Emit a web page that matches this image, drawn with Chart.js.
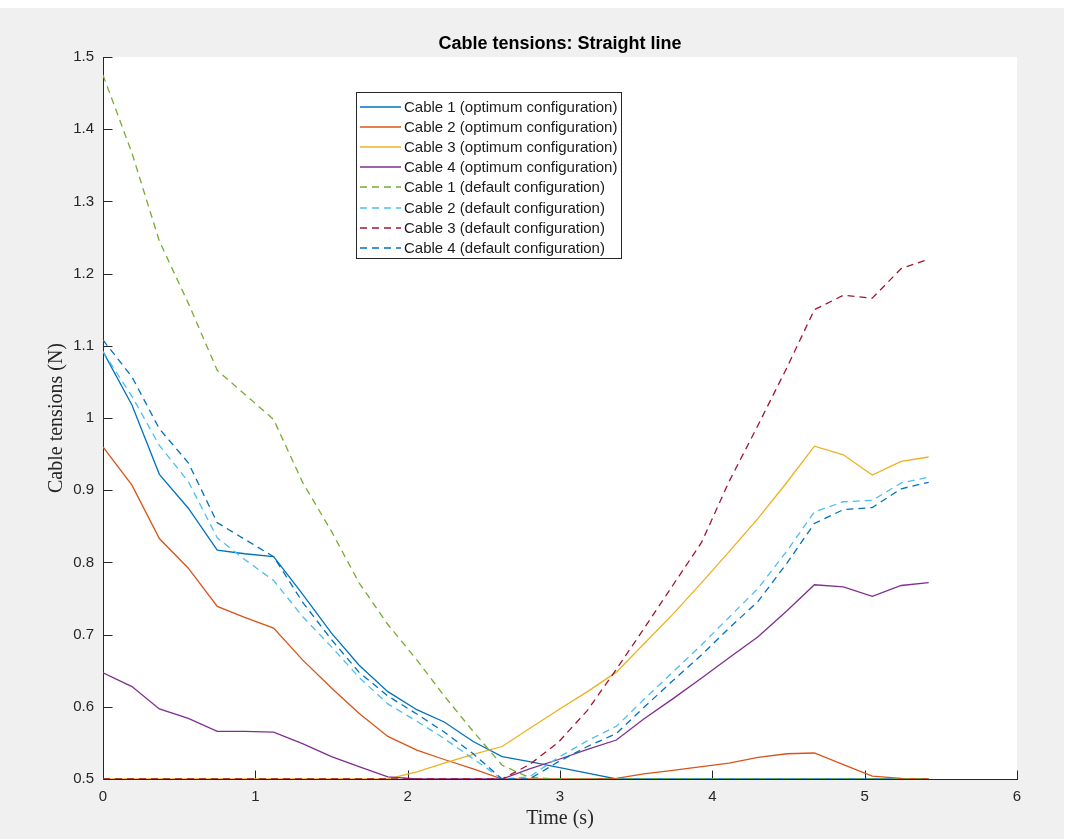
<!DOCTYPE html>
<html>
<head>
<meta charset="utf-8">
<title>Cable tensions: Straight line</title>
<script src="https://cdn.jsdelivr.net/npm/chart.js@4.4.1/dist/chart.umd.min.js"></script>
<style>
  html, body { margin: 0; padding: 0; background: #ffffff; }
  #figure { position: absolute; left: 0; top: 8px; width: 1064px; height: 831px; background: #f0f0f0; }
  #holder { position: absolute; left: 0; top: 0; width: 1073px; height: 839px; }
  canvas { display: block; }
</style>
</head>
<body>
<div id="figure"></div>
<div id="holder"><canvas id="chart" width="1073" height="839"></canvas></div>
<script>
// Sample times (s)
const times = [0, 0.19, 0.37, 0.56, 0.75, 0.93, 1.12, 1.31, 1.50, 1.68,
               1.87, 2.06, 2.24, 2.43, 2.62, 2.80, 2.99, 3.18, 3.37, 3.55,
               3.74, 3.93, 4.11, 4.30, 4.49, 4.67, 4.86, 5.05, 5.24, 5.42];

// Cable tensions (N), optimum configuration
const cable1Optimum = [1.092, 1.018, 0.922, 0.875, 0.817, 0.812, 0.808, 0.756, 0.702, 0.658,
                       0.621, 0.596, 0.579, 0.552, 0.531, 0.524, 0.516, 0.508, 0.500, 0.500,
                       0.500, 0.500, 0.500, 0.500, 0.500, 0.500, 0.500, 0.500, 0.500, 0.500];
const cable2Optimum = [0.960, 0.907, 0.833, 0.792, 0.739, 0.724, 0.709, 0.665, 0.626, 0.591,
                       0.559, 0.540, 0.527, 0.514, 0.500, 0.500, 0.500, 0.500, 0.501, 0.507,
                       0.512, 0.517, 0.522, 0.530, 0.535, 0.536, 0.520, 0.504, 0.501, 0.500];
const cable3Optimum = [0.500, 0.500, 0.500, 0.500, 0.500, 0.500, 0.500, 0.500, 0.500, 0.500,
                       0.500, 0.510, 0.522, 0.534, 0.545, 0.570, 0.596, 0.621, 0.648, 0.687,
                       0.728, 0.772, 0.815, 0.861, 0.911, 0.961, 0.949, 0.921, 0.940, 0.946];
const cable4Optimum = [0.647, 0.628, 0.597, 0.584, 0.566, 0.566, 0.565, 0.549, 0.531, 0.517,
                       0.503, 0.500, 0.500, 0.500, 0.500, 0.514, 0.527, 0.541, 0.554, 0.583,
                       0.611, 0.640, 0.668, 0.697, 0.733, 0.769, 0.766, 0.753, 0.768, 0.772];

// Cable tensions (N), default configuration
const cable1Default = [1.475, 1.367, 1.245, 1.159, 1.066, 1.033, 0.998, 0.911, 0.843, 0.772,
                       0.714, 0.665, 0.615, 0.566, 0.519, 0.502, 0.500, 0.500, 0.500, 0.500,
                       0.500, 0.500, 0.500, 0.500, 0.500, 0.500, 0.500, 0.500, 0.500, 0.500];
const cable2Default = [1.092, 1.030, 0.962, 0.912, 0.834, 0.804, 0.775, 0.725, 0.683, 0.641,
                       0.604, 0.580, 0.556, 0.528, 0.500, 0.503, 0.530, 0.553, 0.573, 0.610,
                       0.648, 0.686, 0.724, 0.764, 0.816, 0.870, 0.884, 0.886, 0.910, 0.918];
const cable3Default = [0.500, 0.500, 0.500, 0.500, 0.500, 0.500, 0.500, 0.500, 0.500, 0.500,
                       0.500, 0.500, 0.500, 0.500, 0.500, 0.520, 0.551, 0.595, 0.652, 0.708,
                       0.768, 0.828, 0.912, 0.990, 1.070, 1.150, 1.170, 1.166, 1.207, 1.220];
const cable4Default = [1.108, 1.057, 0.985, 0.938, 0.855, 0.832, 0.808, 0.745, 0.693, 0.648,
                       0.615, 0.590, 0.565, 0.535, 0.500, 0.500, 0.524, 0.545, 0.563, 0.599,
                       0.636, 0.672, 0.709, 0.746, 0.799, 0.854, 0.873, 0.876, 0.902, 0.911];

// Axis ticks
const xTicks = [0, 1, 2, 3, 4, 5, 6];
const xTickLabels = ['0', '1', '2', '3', '4', '5', '6'];
const yTicks = [0.5, 0.6, 0.7, 0.8, 0.9, 1.0, 1.1, 1.2, 1.3, 1.4, 1.5];
const yTickLabels = ['0.5', '0.6', '0.7', '0.8', '0.9', '1', '1.1', '1.2', '1.3', '1.4', '1.5'];

const seriesLabels = [
  'Cable 1 (optimum configuration)',
  'Cable 2 (optimum configuration)',
  'Cable 3 (optimum configuration)',
  'Cable 4 (optimum configuration)',
  'Cable 1 (default configuration)',
  'Cable 2 (default configuration)',
  'Cable 3 (default configuration)',
  'Cable 4 (default configuration)'
];
const seriesValues = [cable1Optimum, cable2Optimum, cable3Optimum, cable4Optimum,
                      cable1Default, cable2Default, cable3Default, cable4Default];
const seriesColors = ['#0072BD', '#D95319', '#EDB120', '#7E2F8E',
                      '#77AC30', '#4DBEEE', '#A2142F', '#0072BD'];
const DASH = [7, 5];

const AXIS_COLOR = '#262626';
const SANS = '"Liberation Sans", Arial, Helvetica, sans-serif';
const SERIF = '"Liberation Serif", "Times New Roman", serif';

const datasets = seriesValues.map((vals, i) => ({
  label: seriesLabels[i],
  data: times.map((t, k) => ({ x: t, y: vals[k] })),
  borderColor: seriesColors[i],
  backgroundColor: seriesColors[i],
  borderWidth: 1.3,
  borderDash: i >= 4 ? DASH : [],
  pointRadius: 0,
  tension: 0,
  fill: false,
  order: seriesValues.length - 1 - i
}));

// Axes in the MATLAB style: left and bottom lines, inward ticks, labels and titles
const matlabAxes = {
  id: 'matlabAxes',
  beforeDraw(chart) {
    const { ctx, chartArea: a } = chart;
    ctx.save();
    ctx.fillStyle = '#ffffff';
    ctx.fillRect(a.left, a.top, a.right - a.left, a.bottom - a.top);
    ctx.restore();
  },
  beforeDatasetsDraw(chart) {
    const { ctx, chartArea: a, scales: { x, y } } = chart;
    const tick = 9;
    ctx.save();
    ctx.strokeStyle = AXIS_COLOR;
    ctx.lineWidth = 1;
    ctx.beginPath();
    const L = Math.round(a.left) + 0.5;
    const B = Math.round(a.bottom) + 0.5;
    ctx.moveTo(L, Math.round(a.top));
    ctx.lineTo(L, B);
    ctx.lineTo(Math.round(a.right) + 1, B);
    xTicks.forEach(v => {
      const px = Math.round(x.getPixelForValue(v)) + 0.5;
      ctx.moveTo(px, B);
      ctx.lineTo(px, B - tick);
    });
    yTicks.forEach(v => {
      const py = Math.round(y.getPixelForValue(v)) + 0.5;
      ctx.moveTo(L, py);
      ctx.lineTo(L + tick, py);
    });
    ctx.stroke();
    ctx.restore();
  },
  afterDraw(chart) {
    const { ctx, chartArea: a, scales: { x, y } } = chart;
    ctx.save();
    // tick labels
    ctx.fillStyle = AXIS_COLOR;
    ctx.font = '15px ' + SANS;
    ctx.textAlign = 'right';
    ctx.textBaseline = 'middle';
    yTicks.forEach((v, i) => ctx.fillText(yTickLabels[i], a.left - 9, y.getPixelForValue(v)));
    ctx.textAlign = 'center';
    xTicks.forEach((v, i) => ctx.fillText(xTickLabels[i], x.getPixelForValue(v), a.bottom + 18));
    // axis titles
    ctx.font = '20px ' + SERIF;
    ctx.fillText('Time (s)', (a.left + a.right) / 2, a.bottom + 40);
    ctx.save();
    ctx.translate(a.left - 46, (a.top + a.bottom) / 2);
    ctx.rotate(-Math.PI / 2);
    ctx.fillText('Cable tensions (N)', 0, 0);
    ctx.restore();
    // title
    ctx.fillStyle = '#000000';
    ctx.font = 'bold 18px ' + SANS;
    ctx.fillText('Cable tensions: Straight line', (a.left + a.right) / 2, a.top - 13);
    ctx.restore();
  }
};

// Legend box placed inside the axes
const boxLegend = {
  id: 'boxLegend',
  afterDatasetsDraw(chart) {
    const { ctx } = chart;
    const left = 356, top = 92, width = 265, height = 166;
    const rowTop = 106.5, rowStep = 20.2;
    ctx.save();
    ctx.fillStyle = '#ffffff';
    ctx.fillRect(left, top, width, height);
    ctx.strokeStyle = AXIS_COLOR;
    ctx.lineWidth = 1;
    ctx.strokeRect(left + 0.5, top + 0.5, width, height);
    ctx.font = '15px ' + SANS;
    ctx.textAlign = 'left';
    ctx.textBaseline = 'middle';
    chart.data.datasets.forEach((ds, i) => {
      const yy = Math.round(rowTop + i * rowStep);
      ctx.strokeStyle = seriesColors[i];
      ctx.lineWidth = 1.6;
      ctx.setLineDash(i >= 4 ? DASH : []);
      ctx.beginPath();
      ctx.moveTo(360, yy);
      ctx.lineTo(401, yy);
      ctx.stroke();
      ctx.setLineDash([]);
      ctx.fillStyle = '#1a1a1a';
      ctx.fillText(ds.label, 404, yy + 0.5);
    });
    ctx.restore();
  }
};

new Chart(document.getElementById('chart'), {
  type: 'line',
  data: { datasets },
  options: {
    responsive: false,
    animation: false,
    devicePixelRatio: 1,
    layout: { padding: { left: 103, top: 57, right: 56, bottom: 60 } },
    plugins: {
      legend: { display: false },
      title: { display: false },
      tooltip: { enabled: false }
    },
    scales: {
      x: { type: 'linear', min: 0, max: 6, display: false },
      y: { type: 'linear', min: 0.5, max: 1.5, display: false }
    }
  },
  plugins: [matlabAxes, boxLegend]
});
</script>
</body>
</html>
